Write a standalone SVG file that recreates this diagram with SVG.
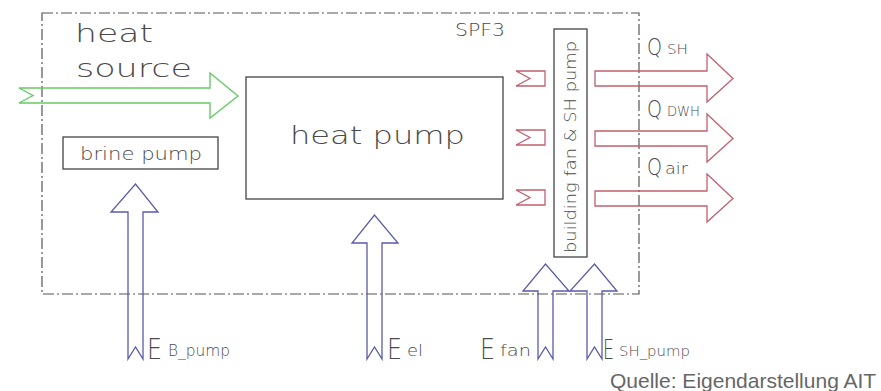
<svg xmlns="http://www.w3.org/2000/svg" width="881" height="391" viewBox="0 0 881 391">
<style>
.cad{font-family:"DejaVu Sans","Liberation Sans",sans-serif;font-weight:200;fill:#4a4a4a}
.box{fill:none;stroke:#444;stroke-width:1.3}
.frame{fill:none;stroke:#555;stroke-width:1.2;stroke-dasharray:11 3 2 3}
.green{fill:none;stroke:#66cc66;stroke-width:1.4}
.red{fill:none;stroke:#c0606e;stroke-width:1.3}
.blue{fill:none;stroke:#5a5aaa;stroke-width:1.3}
.src{font-family:"Liberation Sans",Arial,sans-serif;font-size:21px;fill:#666}
</style>
<rect width="881" height="391" fill="#fff"/>
<g id="frame">
<rect class="frame" x="42" y="13" width="597" height="281"/>
<text class="cad" x="455" y="36" font-size="17" textLength="50" lengthAdjust="spacingAndGlyphs">SPF3</text>
</g>
<g id="heat-source">
<text class="cad" x="75" y="42" font-size="25" textLength="78" lengthAdjust="spacingAndGlyphs">heat</text>
<text class="cad" x="76" y="77" font-size="25" textLength="116" lengthAdjust="spacingAndGlyphs">source</text>
</g>
<g id="heat-pump">
<rect class="box" x="246" y="77" width="257" height="122"/>
<text class="cad" x="290" y="144" font-size="25" textLength="175" lengthAdjust="spacingAndGlyphs">heat pump</text>
</g>
<g id="brine-pump">
<rect class="box" x="63" y="137" width="155" height="32"/>
<text class="cad" x="80" y="160" font-size="18" textLength="122" lengthAdjust="spacingAndGlyphs">brine pump</text>
</g>
<g id="building-fan">
<rect class="box" x="554" y="29" width="33" height="228"/>
<text class="cad" x="571" y="147" font-size="15" text-anchor="middle" textLength="212" lengthAdjust="spacingAndGlyphs" transform="rotate(-90 571 147)" dy="5">building fan &amp; SH pump</text>
</g>
<g id="connectors">
<polygon class="green" points="19,88 210,88 210,73 238,96 210,118 210,103 19,103 33,95.5"/>
<polygon class="red" points="516,71 545,71 545,86 516,86 530,78.5"/>
<polygon class="red" points="516,130 545,130 545,145 516,145 530,137.5"/>
<polygon class="red" points="516,190 545,190 545,205 516,205 530,197.5"/>
<polygon class="red" points="595,71 707,71 707,54 733,78.5 707,102 707,86 595,86"/>
<polygon class="red" points="595,131 707,131 707,114 733,138.5 707,162 707,146 595,146"/>
<polygon class="red" points="595,191 707,191 707,174 733,198.5 707,222 707,206 595,206"/>
<polygon class="blue" points="128,359 128,212 111,212 135.5,184 158,212 143,212 143,359 135.5,347"/>
<polygon class="blue" points="367,359 367,243 352,243 374.5,215 398,243 382,243 382,359 374.5,347"/>
<polygon class="blue" points="538,359 538,291 523,291 545.5,264 569,291 553,291 553,359 545.5,347"/>
<polygon class="blue" points="587,359 587,291 570,291 594.5,264 617,291 602,291 602,359 594.5,347"/>
</g>
<g id="labels">
<text class="cad" x="647" y="55" font-size="23" textLength="15" lengthAdjust="spacingAndGlyphs">Q</text>
<text class="cad" x="667" y="54" font-size="14" textLength="21" lengthAdjust="spacingAndGlyphs">SH</text>
<text class="cad" x="647" y="117" font-size="23" textLength="15" lengthAdjust="spacingAndGlyphs">Q</text>
<text class="cad" x="667" y="116" font-size="14" textLength="33" lengthAdjust="spacingAndGlyphs">DWH</text>
<text class="cad" x="647" y="175" font-size="23" textLength="15" lengthAdjust="spacingAndGlyphs">Q</text>
<text class="cad" x="665" y="174" font-size="15" textLength="23" lengthAdjust="spacingAndGlyphs">air</text>
<text class="cad" x="147" y="359" font-size="29" textLength="15" lengthAdjust="spacingAndGlyphs">E</text>
<text class="cad" x="168" y="356" font-size="16" textLength="62" lengthAdjust="spacingAndGlyphs">B_pump</text>
<text class="cad" x="387" y="359" font-size="29" textLength="15" lengthAdjust="spacingAndGlyphs">E</text>
<text class="cad" x="407" y="356" font-size="16" textLength="16" lengthAdjust="spacingAndGlyphs">el</text>
<text class="cad" x="480" y="359" font-size="29" textLength="15" lengthAdjust="spacingAndGlyphs">E</text>
<text class="cad" x="500" y="356" font-size="16" textLength="31" lengthAdjust="spacingAndGlyphs">fan</text>
<text class="cad" x="603" y="359" font-size="27" textLength="11" lengthAdjust="spacingAndGlyphs">E</text>
<text class="cad" x="619" y="356" font-size="14" textLength="71" lengthAdjust="spacingAndGlyphs">SH_pump</text>
<text class="src" x="610" y="388">Quelle: Eigendarstellung AIT</text>
</g>
</svg>
